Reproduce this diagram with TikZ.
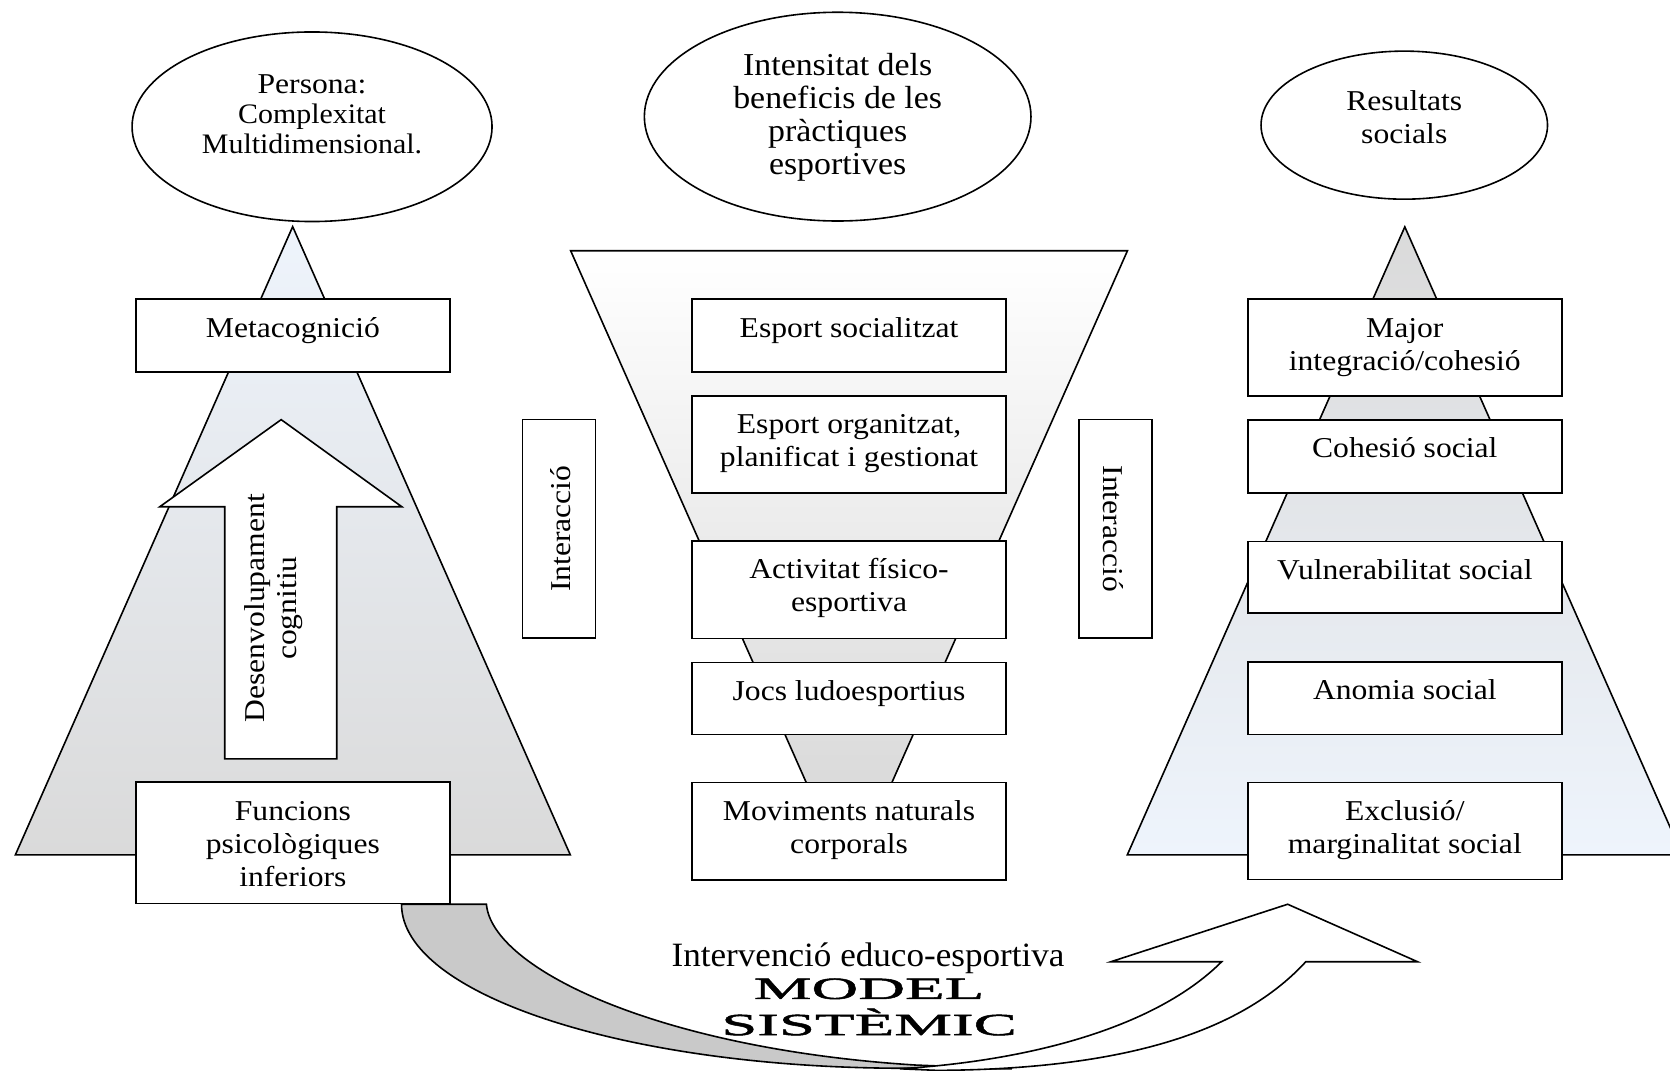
\documentclass[tikz,border=0pt]{standalone}
\usepackage{fontspec}
\setmainfont{Liberation Serif}[FakeStretch=1.1]
\newfontfamily\narrowserif{Liberation Serif}[FakeStretch=1.03]
\newfontfamily\ovalserif{Liberation Serif}[FakeStretch=1.06]
\newfontfamily\wideserif{Liberation Serif}[FakeStretch=2.1, FakeBold=1.6]
\usetikzlibrary{shapes.geometric}

\definecolor{paleblue}{RGB}{238,244,252}
\definecolor{softgray}{RGB}{218,218,218}
\definecolor{funnelgray}{RGB}{212,212,212}
\definecolor{bandgray}{RGB}{201,201,201}

\tikzset{
  outline/.style={draw=black, line width=1.5pt, line join=miter, miter limit=10},
  box/.style={outline, fill=white, rectangle, inner sep=0pt, outer sep=0pt,
              anchor=north, minimum width=295pt},
  sidebox/.style={outline, fill=white, rectangle, inner sep=0pt, outer sep=0pt,
                  minimum width=68.5pt, minimum height=205pt},
  oval/.style={outline, fill=white, ellipse, inner sep=0pt, outer sep=0pt},
  boxtext/.style={inner sep=0pt, outer sep=0pt, anchor=north, align=center,
                  font=\fontsize{27}{31}\selectfont},
  ovaltext/.style={inner sep=0pt, outer sep=0pt, anchor=north, align=center},
  turned/.style={inner sep=0pt, outer sep=0pt, align=center,
                 font=\fontsize{27}{30}\selectfont},
}

\begin{document}
\begin{tikzpicture}[x=1pt, y=-1pt]
\useasboundingbox (0,0) rectangle (1568,1005);
\fill[white] (0,0) rectangle (1568,1005);

% ---- pyramids and funnel ----
\draw[outline, top color=paleblue, bottom color=softgray]
  (274.8,212.8) -- (535.5,802.7) -- (14.4,802.7) -- cycle;
\draw[outline, top color=white, bottom color=funnelgray]
  (535.8,235.4) -- (1058.6,235.4) -- (797.2,825.5) -- cycle;
\draw[outline, top color=softgray, bottom color=paleblue]
  (1319,213) -- (1579.6,802.7) -- (1058.4,802.7) -- cycle;

% ---- upward block arrow (cognitive development) ----
\draw[outline, fill=white]
  (211,712.5) -- (211,475.8) -- (150,475.8) -- (264,394) -- (377.3,475.8)
  -- (316.2,475.8) -- (316.2,712.5) -- cycle;
\node[turned, rotate=90] (devT) at (257,571) {Desenvolupament\\cognitiu};

% ---- left column ----
\node[box, minimum height=68pt] (meta) at (275,281) {};
\node[box, minimum height=113.8pt] (funcions) at (275,734.5) {};
\node[boxtext] (metaT) at ([yshift=-13.8pt]meta.north) {\strut Metacognició};
\node[boxtext] (funcionsT) at ([yshift=-13.8pt]funcions.north)
  {\strut Funcions\\psicològiques\\inferiors};

% ---- centre column ----
\node[box, minimum height=68pt]   (esp1)  at (797.2,281)   {};
\node[box, minimum height=91.2pt] (esp2)  at (797.2,371.6) {};
\node[box, minimum height=91.4pt] (activ) at (797.2,508)   {};
\node[box, minimum height=67.8pt] (jocs)  at (797.2,622)   {};
\node[box, minimum height=91.5pt] (movim) at (797.2,734.8) {};
\node[boxtext] (esp1T)  at ([yshift=-13.8pt]esp1.north)  {\strut Esport socialitzat};
\node[boxtext] (esp2T)  at ([yshift=-13.8pt]esp2.north)  {\strut Esport organitzat,\\planificat i gestionat};
\node[boxtext] (activT) at ([yshift=-13.8pt]activ.north) {\strut Activitat físico-\\esportiva};
\node[boxtext] (jocsT)  at ([yshift=-13.8pt]jocs.north)  {\strut Jocs ludoesportius};
\node[boxtext] (movimT) at ([yshift=-13.8pt]movim.north) {\strut Moviments naturals\\corporals};

% ---- right column ----
\node[box, minimum height=91pt]   (major)  at (1319,281)   {};
\node[box, minimum height=68.6pt] (cohes)  at (1319,394.4) {};
\node[box, minimum height=67.1pt] (vulner) at (1319,508.5) {};
\node[box, minimum height=68pt]   (anomia) at (1319,621.6) {};
\node[box, minimum height=91pt]   (exclus) at (1319,734.8) {};
\node[boxtext] (majorT)  at ([yshift=-13.8pt]major.north)  {\strut Major\\integració/cohesió};
\node[boxtext] (cohesT)  at ([yshift=-13.8pt]cohes.north)  {\strut Cohesió social};
\node[boxtext] (vulnerT) at ([yshift=-13.8pt]vulner.north) {\strut Vulnerabilitat social};
\node[boxtext] (anomiaT) at ([yshift=-13.8pt]anomia.north) {\strut Anomia social};
\node[boxtext] (exclusT) at ([yshift=-13.8pt]exclus.north) {\strut Exclusió/\\marginalitat social};

% ---- interaction boxes ----
\node[sidebox] (int1) at (524.7,496.4) {};
\node[sidebox] (int2) at (1047.3,496.4) {};
\node[turned, rotate=90]  (int1T) at ([xshift=2pt]int1.center) {Interacció};
\node[turned, rotate=-90] (int2T) at ([xshift=-2pt]int2.center) {Interacció};

% ---- ellipses ----
\node[oval, minimum width=338pt, minimum height=178pt] (persona) at (293,119) {};
\node[oval, minimum width=363pt, minimum height=196pt] (intens) at (786.5,109.5) {};
\node[oval, minimum width=269pt, minimum height=139pt] (result) at (1318.5,117.5) {};
\node[ovaltext, font=\ovalserif\fontsize{26.5}{28.5}\selectfont] (personaT) at (293,67.6)
  {{\rmfamily\fontsize{27}{28.5}\selectfont\strut Persona:}\\Complexitat\\Multidimensional.};
\node[ovaltext, font=\ovalserif\fontsize{30}{31}\selectfont] (intensT) at (786.5,49.5)
  {\strut Intensitat dels\\beneficis de les\\pràctiques\\esportives};
\node[ovaltext, font=\fontsize{27}{31}\selectfont] (resultT) at (1318.5,81.8)
  {\strut Resultats\\socials};

% ---- curved intervention arrow ----
\draw[outline, fill=bandgray]
  (377,849) -- (456.7,849) .. controls (462,910) and (620,985) .. (860,1000)
  -- (950,1003.5) -- (850,1003) .. controls (589,1003) and (377,934) .. (377,849) -- cycle;
\draw[outline, fill=white]
  (845,1003.5) .. controls (980,995) and (1090,960) .. (1147,903)
  -- (1043,903) -- (1209,849) -- (1331,903) -- (1226,903)
  .. controls (1160,975) and (1040,1004) .. (880,1005) -- cycle;

\node[inner sep=0pt, anchor=base, font=\narrowserif\fontsize{32}{34}\selectfont]
  (interv) at (815,907) {Intervenció educo-esportiva};
\node[inner sep=0pt, anchor=north, align=center,
      font=\wideserif\fontsize{29}{34}\selectfont]
  (model) at (816,918.5) {MODEL\\SISTÈMIC};
\end{tikzpicture}
\end{document}
